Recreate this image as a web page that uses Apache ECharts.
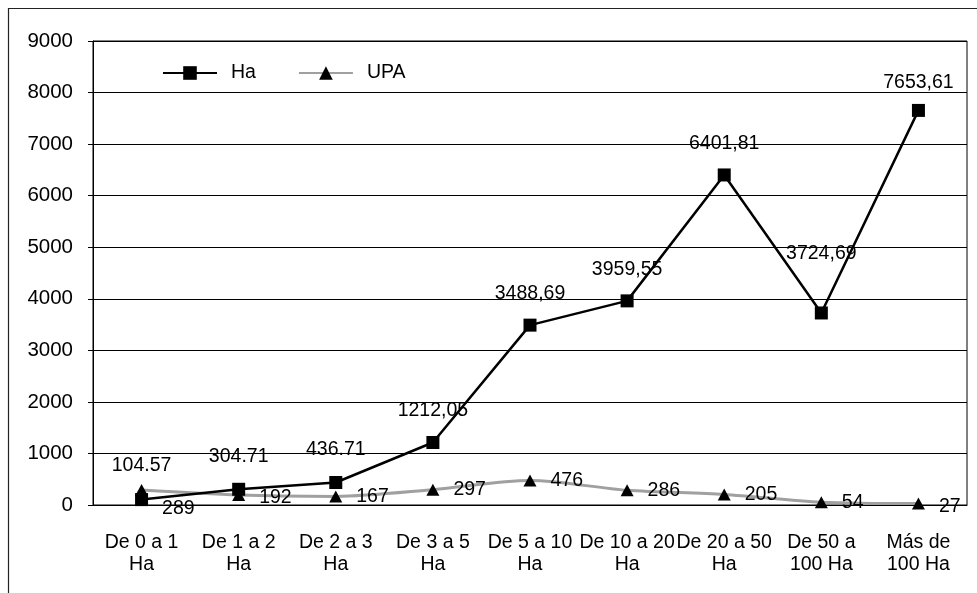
<!DOCTYPE html>
<html>
<head>
<meta charset="utf-8">
<script src="https://cdn.jsdelivr.net/npm/echarts@6/dist/echarts.min.js"></script>
<style>
html,body{margin:0;padding:0;background:#fff;}
#chart{width:977px;height:593px;}
</style>
</head>
<body>
<div id="chart"></div>
<script>
const categories = ["De 0 a 1\nHa","De 1 a 2\nHa","De 2 a 3\nHa","De 3 a 5\nHa","De 5 a 10\nHa","De 10 a 20\nHa","De 20 a 50\nHa","De 50 a\n100 Ha","Más de\n100 Ha"];
const haValues = [104.57, 304.71, 436.71, 1212.05, 3488.69, 3959.55, 6401.81, 3724.69, 7653.61];
const haLabels = ["104.57","304.71","436.71","1212,05","3488,69","3959,55","6401,81","3724,69","7653,61"];
const upaValues = [289, 192, 167, 297, 476, 286, 205, 54, 27];
const yTicks = [0,1000,2000,3000,4000,5000,6000,7000,8000,9000];

// label nudges (layout only)
const haLabelOffsets = [[0,-2],[0,-1],[0,-1],[0,0],[0,0],[0,0],[0,0],[0,-28],[0,4]];
const upaLabelOffsets = [[0,19],[0,3],[0,0],[0,0],[0,0],[0,0],[0,0],[0,0],[0,3]];

const FONT = 'Liberation Sans, Arial, sans-serif';
const chart = echarts.init(document.getElementById('chart'), null, {renderer:'canvas'});

chart.setOption({
  backgroundColor:'#fff',
  animation:false,
  graphic:[{type:'rect', shape:{x:8.5,y:8.5,width:1200,height:1200}, style:{fill:'none',stroke:'#222',lineWidth:1.2}, z:-1}],
  legend:{
    left:157, top:58,
    itemWidth:54, itemHeight:17, itemGap:42,
    textStyle:{fontFamily:FONT,fontSize:19.5,color:'#000',padding:[0,0,0,9]},
    data:['Ha','UPA']
  },
  grid:{left:93,right:10,top:41,bottom:88,show:true,borderColor:'#000',borderWidth:1,backgroundColor:'transparent'},
  xAxis:{
    type:'category', data:categories, boundaryGap:true,
    axisLine:{lineStyle:{color:'#000',width:1}},
    axisTick:{show:false},
    axisLabel:{interval:0,hideOverlap:false,fontFamily:FONT,fontSize:19.5,color:'#000',lineHeight:22,margin:27}
  },
  yAxis:{
    type:'value', min:yTicks[0], max:yTicks[yTicks.length-1], interval:1000,
    axisLine:{show:true,lineStyle:{color:'#000',width:1}},
    axisTick:{show:true,inside:false,length:5,lineStyle:{color:'#000'}},
    axisLabel:{fontFamily:FONT,fontSize:20.5,color:'#000',margin:20,formatter:v=>String(v)},
    splitLine:{lineStyle:{color:'#000',width:1}}
  },
  series:[
    {
      name:'Ha', type:'line',
      data:haValues.map((v,i)=>({value:v,label:{offset:haLabelOffsets[i]}})),
      symbol:'rect', symbolSize:13,
      lineStyle:{color:'#000',width:2.5},
      itemStyle:{color:'#000'},
      label:{show:true,position:'top',distance:15,fontFamily:FONT,fontSize:19.5,color:'#000',
        formatter:p=>haLabels[p.dataIndex]},
      z:3
    },
    {
      name:'UPA', type:'line', smooth:0.3,
      data:upaValues.map((v,i)=>({value:v,label:{offset:upaLabelOffsets[i]}})),
      symbol:'triangle', symbolSize:[13,12],
      lineStyle:{color:'#a0a0a0',width:3},
      itemStyle:{color:'#000'},
      label:{show:true,position:'right',distance:14,fontFamily:FONT,fontSize:19.5,color:'#000'},
      z:2
    }
  ]
});
</script>
</body>
</html>
